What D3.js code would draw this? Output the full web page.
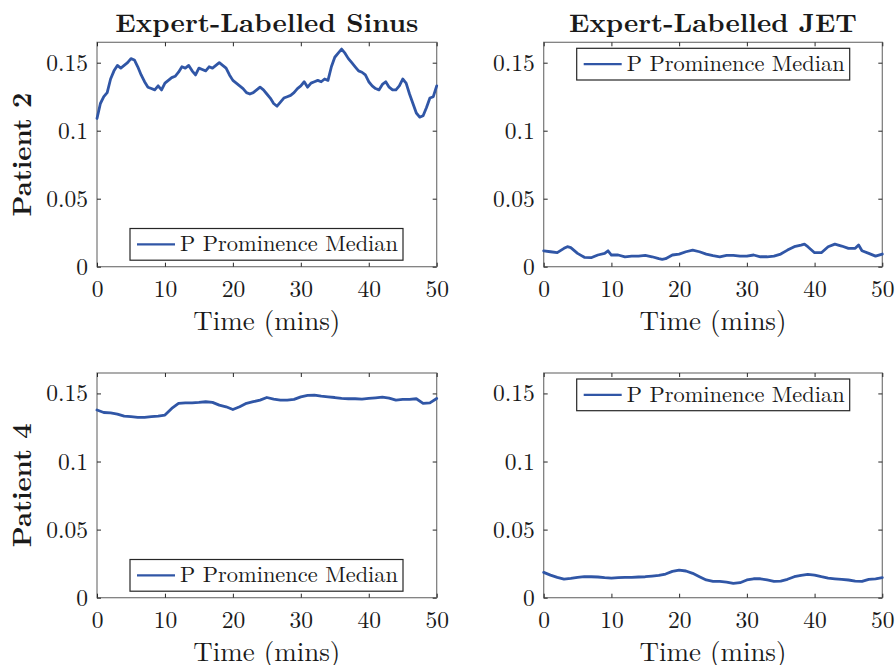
<!DOCTYPE html>
<html>
<head>
<meta charset="utf-8">
<script src="https://cdn.jsdelivr.net/npm/d3@7"></script>
<style>
  html, body { margin: 0; padding: 0; background: #fff; }
  svg { display: block; }
</style>
</head>
<body>
<svg id="chart" width="896" height="665"></svg>
<script>
// ---------------- data ----------------
const columnTitles = ["Expert-Labelled Sinus", "Expert-Labelled JET"];
const rowLabels = ["Patient 2", "Patient 4"];
const legendLabel = "P Prominence Median";
const xLabel = "Time (mins)";
const xTickValues = [0, 10, 20, 30, 40, 50];
const xTickLabels = ["0", "10", "20", "30", "40", "50"];
const yTickValues = [0, 0.05, 0.1, 0.15];
const yTickLabels = ["0", "0.05", "0.1", "0.15"];

// Patient 2, sinus (half-minute samples)
const p2SinusTime = [0,0.5,1,1.5,2,2.5,3,3.5,4,4.5,5,5.5,6,6.5,7,7.5,8,8.5,9,9.5,10,10.5,11,11.5,12,12.5,13,13.5,14,14.5,15,15.5,16,16.5,17,17.5,18,18.5,19,19.5,20,20.5,21,21.5,22,22.5,23,23.5,24,24.5,25,25.5,26,26.5,27,27.5,28,28.5,29,29.5,30,30.5,31,31.5,32,32.5,33,33.5,34,34.5,35,35.5,36,36.5,37,37.5,38,38.5,39,39.5,40,40.5,41,41.5,42,42.5,43,43.5,44,44.5,45,45.5,46,46.5,47,47.5,48,48.5,49,49.5,50];
const p2SinusValues = [0.109,0.120,0.125,0.128,0.138,0.144,0.148,0.146,0.148,0.150,0.153,0.152,0.147,0.141,0.136,0.132,0.131,0.130,0.133,0.130,0.135,0.137,0.139,0.140,0.143,0.147,0.146,0.148,0.144,0.141,0.146,0.145,0.144,0.147,0.146,0.148,0.150,0.148,0.146,0.141,0.137,0.135,0.133,0.131,0.128,0.127,0.128,0.130,0.132,0.130,0.127,0.124,0.120,0.118,0.121,0.124,0.125,0.126,0.128,0.131,0.133,0.136,0.132,0.135,0.136,0.137,0.136,0.138,0.137,0.147,0.154,0.157,0.160,0.157,0.153,0.150,0.147,0.144,0.143,0.141,0.136,0.133,0.131,0.130,0.134,0.136,0.132,0.130,0.130,0.133,0.138,0.135,0.127,0.120,0.113,0.110,0.111,0.117,0.124,0.125,0.133];

// Patient 2, JET
const p2JetTime = [0,1,2,3,3.5,4,5,6,7,8,9,9.5,10,11,12,13,14,15,16,17,17.5,18,19,20,21,22,23,24,25,26,27,28,29,30,31,32,33,34,35,36,37,38,38.5,39,40,41,42,43,44,45,46,46.5,47,48,49,50];
const p2JetValues = [0.0117,0.0110,0.0103,0.0135,0.0147,0.0140,0.0098,0.0069,0.0066,0.0086,0.0098,0.0117,0.0086,0.0086,0.0073,0.0078,0.0078,0.0083,0.0073,0.0059,0.0054,0.0059,0.0086,0.0093,0.0110,0.0122,0.0110,0.0093,0.0081,0.0073,0.0083,0.0083,0.0078,0.0078,0.0086,0.0073,0.0073,0.0078,0.0093,0.0122,0.0147,0.0159,0.0166,0.0147,0.0103,0.0103,0.0147,0.0166,0.0152,0.0135,0.0135,0.0159,0.0117,0.0098,0.0078,0.0093];

// Patient 4, sinus
const p4SinusTime = [0,1,2,3,4,5,6,7,8,9,10,11,12,13,14,15,16,17,18,19,20,21,22,23,24,25,26,27,28,29,30,31,32,33,34,35,36,37,38,39,40,41,42,43,44,45,46,47,48,49,50];
const p4SinusValues = [0.1378,0.1360,0.1357,0.1348,0.1333,0.1329,0.1324,0.1324,0.1329,0.1333,0.1341,0.1390,0.1427,0.1431,0.1431,0.1434,0.1439,0.1434,0.1414,0.1402,0.1382,0.1402,0.1427,0.1439,0.1451,0.1470,0.1458,0.1451,0.1451,0.1456,0.1475,0.1485,0.1488,0.1480,0.1475,0.1470,0.1463,0.1461,0.1461,0.1458,0.1463,0.1468,0.1473,0.1466,0.1451,0.1456,0.1456,0.1461,0.1427,0.1431,0.1463];

// Patient 4, JET
const p4JetTime = [0,1,2,3,4,5,6,7,8,9,10,11,12,13,14,15,16,17,18,19,20,21,22,23,24,25,26,27,28,29,30,31,32,33,34,35,36,37,38,39,40,41,42,43,44,45,46,47,48,49,50];
const p4JetValues = [0.0186,0.0166,0.0149,0.0137,0.0142,0.0149,0.0154,0.0154,0.0152,0.0147,0.0144,0.0147,0.0149,0.0149,0.0152,0.0154,0.0159,0.0164,0.0174,0.0193,0.0203,0.0196,0.0179,0.0154,0.0130,0.0120,0.0120,0.0115,0.0105,0.0110,0.0130,0.0139,0.0139,0.0130,0.0120,0.0122,0.0135,0.0154,0.0164,0.0171,0.0166,0.0154,0.0144,0.0139,0.0135,0.0130,0.0122,0.0120,0.0135,0.0139,0.0147];

// ---------------- layout ----------------
const FONT = "'Latin Modern Roman'";
const TXT = "#1a1a1a";
const svg = d3.select("#chart");
svg.append("rect").attr("width", 896).attr("height", 665).attr("fill", "#fff");

const colX = [[97, 436.7], [543.7, 882.3]];
const rowY = [[42.3, 266.7], [373, 597.7]];
const lineColor = "#3056a6";
const axisColor = "#262626";

const panels = [
  { row: 0, col: 0, t: p2SinusTime, v: p2SinusValues, legend: "bottom" },
  { row: 0, col: 1, t: p2JetTime,   v: p2JetValues,   legend: "top" },
  { row: 1, col: 0, t: p4SinusTime, v: p4SinusValues, legend: "bottom" },
  { row: 1, col: 1, t: p4JetTime,   v: p4JetValues,   legend: "top" }
];

panels.forEach(p => {
  const [x0, x1] = colX[p.col];
  const [y0, y1] = rowY[p.row];
  const x = d3.scaleLinear().domain([0, 50]).range([x0, x1]);
  const y = d3.scaleLinear().domain([0, 0.165]).range([y1, y0]);
  const g = svg.append("g");

  // box
  g.append("rect").attr("x", x0).attr("y", y0).attr("width", x1 - x0).attr("height", y1 - y0)
    .attr("fill", "none").attr("stroke", "#777").attr("stroke-width", 1.2);

  // line
  const pts = p.t.map((t, i) => [t, p.v[i]]);
  g.append("path").datum(pts)
    .attr("fill", "none").attr("stroke", lineColor).attr("stroke-width", 2.8)
    .attr("stroke-linejoin", "round").attr("stroke-linecap", "round")
    .attr("d", d3.line().x(d => x(d[0])).y(d => y(d[1])));

  // axes
  const styleAxis = sel => {
    sel.attr("font-family", FONT).attr("font-size", 23.5);
    sel.select(".domain").remove();
    sel.selectAll(".tick line").attr("stroke", axisColor).attr("stroke-width", 1);
    sel.selectAll(".tick text").attr("fill", TXT).attr("font-size", 23.5).attr("font-family", FONT);
  };
  g.append("g").attr("transform", `translate(0,${y1})`)
    .call(d3.axisBottom(x).tickValues(xTickValues).tickFormat((d, i) => xTickLabels[i])
      .tickSizeInner(-4).tickSizeOuter(0).tickPadding(14))
    .call(styleAxis);
  g.append("g").attr("transform", `translate(0,${y0})`)
    .call(d3.axisTop(x).tickValues(xTickValues).tickFormat("").tickSizeInner(-4).tickSizeOuter(0))
    .call(styleAxis);
  g.append("g").attr("transform", `translate(${x0},0)`)
    .call(d3.axisLeft(y).tickValues(yTickValues).tickFormat((d, i) => yTickLabels[i])
      .tickSizeInner(-4).tickSizeOuter(0).tickPadding(9))
    .call(styleAxis);
  g.append("g").attr("transform", `translate(${x1},0)`)
    .call(d3.axisRight(y).tickValues(yTickValues).tickFormat("").tickSizeInner(-4).tickSizeOuter(0))
    .call(styleAxis);

  // x label
  g.append("text").attr("x", (x0 + x1) / 2).attr("y", y1 + 63.5)
    .attr("text-anchor", "middle").attr("font-size", 27).attr("fill", TXT).attr("font-family", FONT)
    .attr("textLength", 147).attr("lengthAdjust", "spacingAndGlyphs")
    .text(xLabel);

  // legend
  const lx = x0 + 33, lw = 273, lh = 31.7;
  const ly = p.legend === "top" ? y0 + 6 : y1 - 6.5 - lh;
  const lg = g.append("g");
  lg.append("rect").attr("x", lx).attr("y", ly).attr("width", lw).attr("height", lh)
    .attr("fill", "#fff").attr("stroke", "#262626").attr("stroke-width", 1.2);
  lg.append("line").attr("x1", lx + 7).attr("x2", lx + 45).attr("y1", ly + lh / 2).attr("y2", ly + lh / 2)
    .attr("stroke", lineColor).attr("stroke-width", 2.2);
  lg.append("text").attr("x", lx + 50).attr("y", ly + lh / 2 + 7)
    .attr("font-size", 21.8).attr("fill", TXT).attr("font-family", FONT)
    .attr("textLength", 218).attr("lengthAdjust", "spacingAndGlyphs")
    .text(legendLabel);
});

// column titles
const titleLens = [303, 288];
columnTitles.forEach((t, i) => {
  svg.append("text").attr("x", (colX[i][0] + colX[i][1]) / 2).attr("y", 32)
    .attr("text-anchor", "middle").attr("font-size", 25.5).attr("font-weight", "bold").attr("fill", TXT)
    .attr("font-family", FONT)
    .attr("textLength", titleLens[i]).attr("lengthAdjust", "spacingAndGlyphs")
    .text(t);
});

// row labels
rowLabels.forEach((t, i) => {
  const cy = (rowY[i][0] + rowY[i][1]) / 2;
  svg.append("text").attr("transform", `translate(31,${cy}) rotate(-90)`)
    .attr("text-anchor", "middle").attr("font-size", 26.5).attr("font-weight", "bold").attr("fill", TXT)
    .attr("font-family", FONT)
    .attr("textLength", 124).attr("lengthAdjust", "spacingAndGlyphs")
    .text(t);
});
</script>
</body>
</html>
